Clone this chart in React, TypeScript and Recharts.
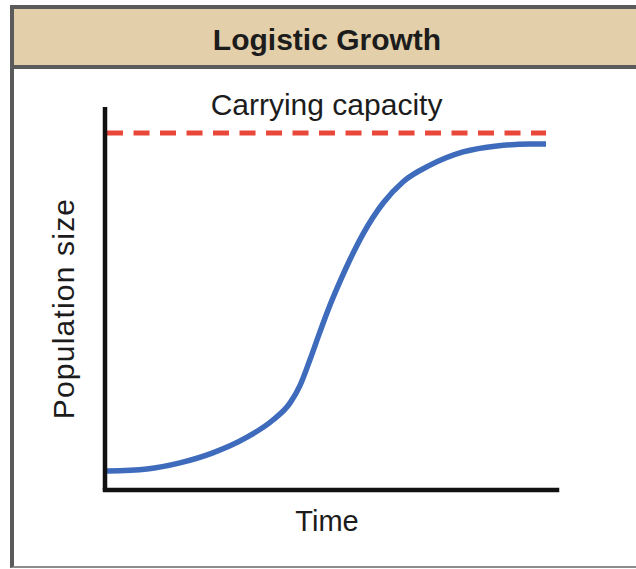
import { LineChart, Line, XAxis, YAxis, ReferenceLine, Label } from "recharts";

const title = "Logistic Growth";
const xTitle = "Time";
const yTitle = "Population size";
const capacityText = "Carrying capacity";

const carryingCapacity = 100;
const timePoints = [0, 9.1, 16.6, 24.1, 31.9, 37.8, 41.7, 44.0, 46.2, 48.5, 50.8, 53.1, 55.4, 58.3, 62.9, 67.4, 73.6, 81.1, 88.8, 96.4, 100];
const populationSizes = [5.3, 5.9, 7.6, 10.4, 14.8, 19.6, 24.4, 29.4, 36.4, 44.3, 51.8, 58.5, 64.7, 71.7, 80.4, 86.3, 91.0, 94.7, 96.4, 96.9, 96.9];

const growth = timePoints.map((t, i) => ({ time: t, size: populationSizes[i] }));

const font = '"Liberation Sans", Arial, sans-serif';
const ink = "#1c1c1c";

const YTitle = ({ viewBox }: any) => {
  const x = viewBox.x - 30;
  const y = viewBox.y + viewBox.height / 2 + 10;
  return (
    <text x={x} y={y} transform={`rotate(-90 ${x} ${y})`} textAnchor="middle" fontSize={30} letterSpacing={1.2} fontFamily={font} fill={ink}>
      {yTitle}
    </text>
  );
};

const XTitle = ({ viewBox }: any) => (
  <text x={viewBox.x + viewBox.width / 2 - 4} y={viewBox.y + 41} textAnchor="middle" fontSize={29} fontFamily={font} fill={ink}>
    {xTitle}
  </text>
);

const CapacityText = ({ viewBox }: any) => (
  <text x={viewBox.x + viewBox.width / 2} y={viewBox.y - 18} textAnchor="middle" fontSize={30} fontFamily={font} fill={ink}>
    {capacityText}
  </text>
);

export default function App() {
  return (
    <div style={{ position: "absolute", left: 0, top: 0, width: 636, height: 569, overflow: "hidden", background: "#fff" }}>
      <div
        style={{
          position: "absolute",
          left: 10,
          top: 5,
          width: 640,
          height: 563,
          boxSizing: "border-box",
          borderTop: "4px solid #5b5b5b",
          borderLeft: "4px solid #5b5b5b",
          borderBottom: "2px solid #8c8c8c",
        }}
      >
        <div style={{ height: 60, boxSizing: "border-box", background: "#e3cfa9", borderBottom: "4px solid #5b5b5b" }} />
      </div>
      <div
        style={{
          position: "absolute",
          left: 14,
          top: 25,
          width: 626,
          textAlign: "center",
          fontFamily: font,
          fontWeight: 700,
          fontSize: 30,
          lineHeight: "30px",
          color: ink,
        }}
      >
        {title}
      </div>
      <div style={{ position: "absolute", left: 0, top: 0 }}>
        <LineChart width={636} height={569} data={growth} margin={{ top: 107, right: 79, bottom: 78, left: 104 }}>
          <XAxis
            dataKey="time"
            type="number"
            domain={[-0.46, 102.5]}
            allowDataOverflow
            tick={false}
            tickLine={false}
            height={1}
            axisLine={{ stroke: "#111", strokeWidth: 4.5, strokeLinecap: "square" }}
          >
            <Label content={<XTitle />} />
          </XAxis>
          <YAxis
            type="number"
            domain={[0, 107.3]}
            allowDataOverflow
            tick={false}
            tickLine={false}
            width={1}
            axisLine={{ stroke: "#111", strokeWidth: 4.5 }}
          >
            <Label content={<YTitle />} />
          </YAxis>
          <ReferenceLine
            segment={[
              { x: timePoints[0], y: carryingCapacity },
              { x: timePoints[timePoints.length - 1], y: carryingCapacity },
            ]}
            stroke="#e8473a"
            strokeWidth={5}
            strokeDasharray="16 10.5"
          >
            <Label content={<CapacityText />} />
          </ReferenceLine>
          <Line
            type="monotone"
            dataKey="size"
            stroke="#3e6bbb"
            strokeWidth={5.5}
            dot={false}
            activeDot={false}
            isAnimationActive={false}
          />
        </LineChart>
      </div>
    </div>
  );
}
